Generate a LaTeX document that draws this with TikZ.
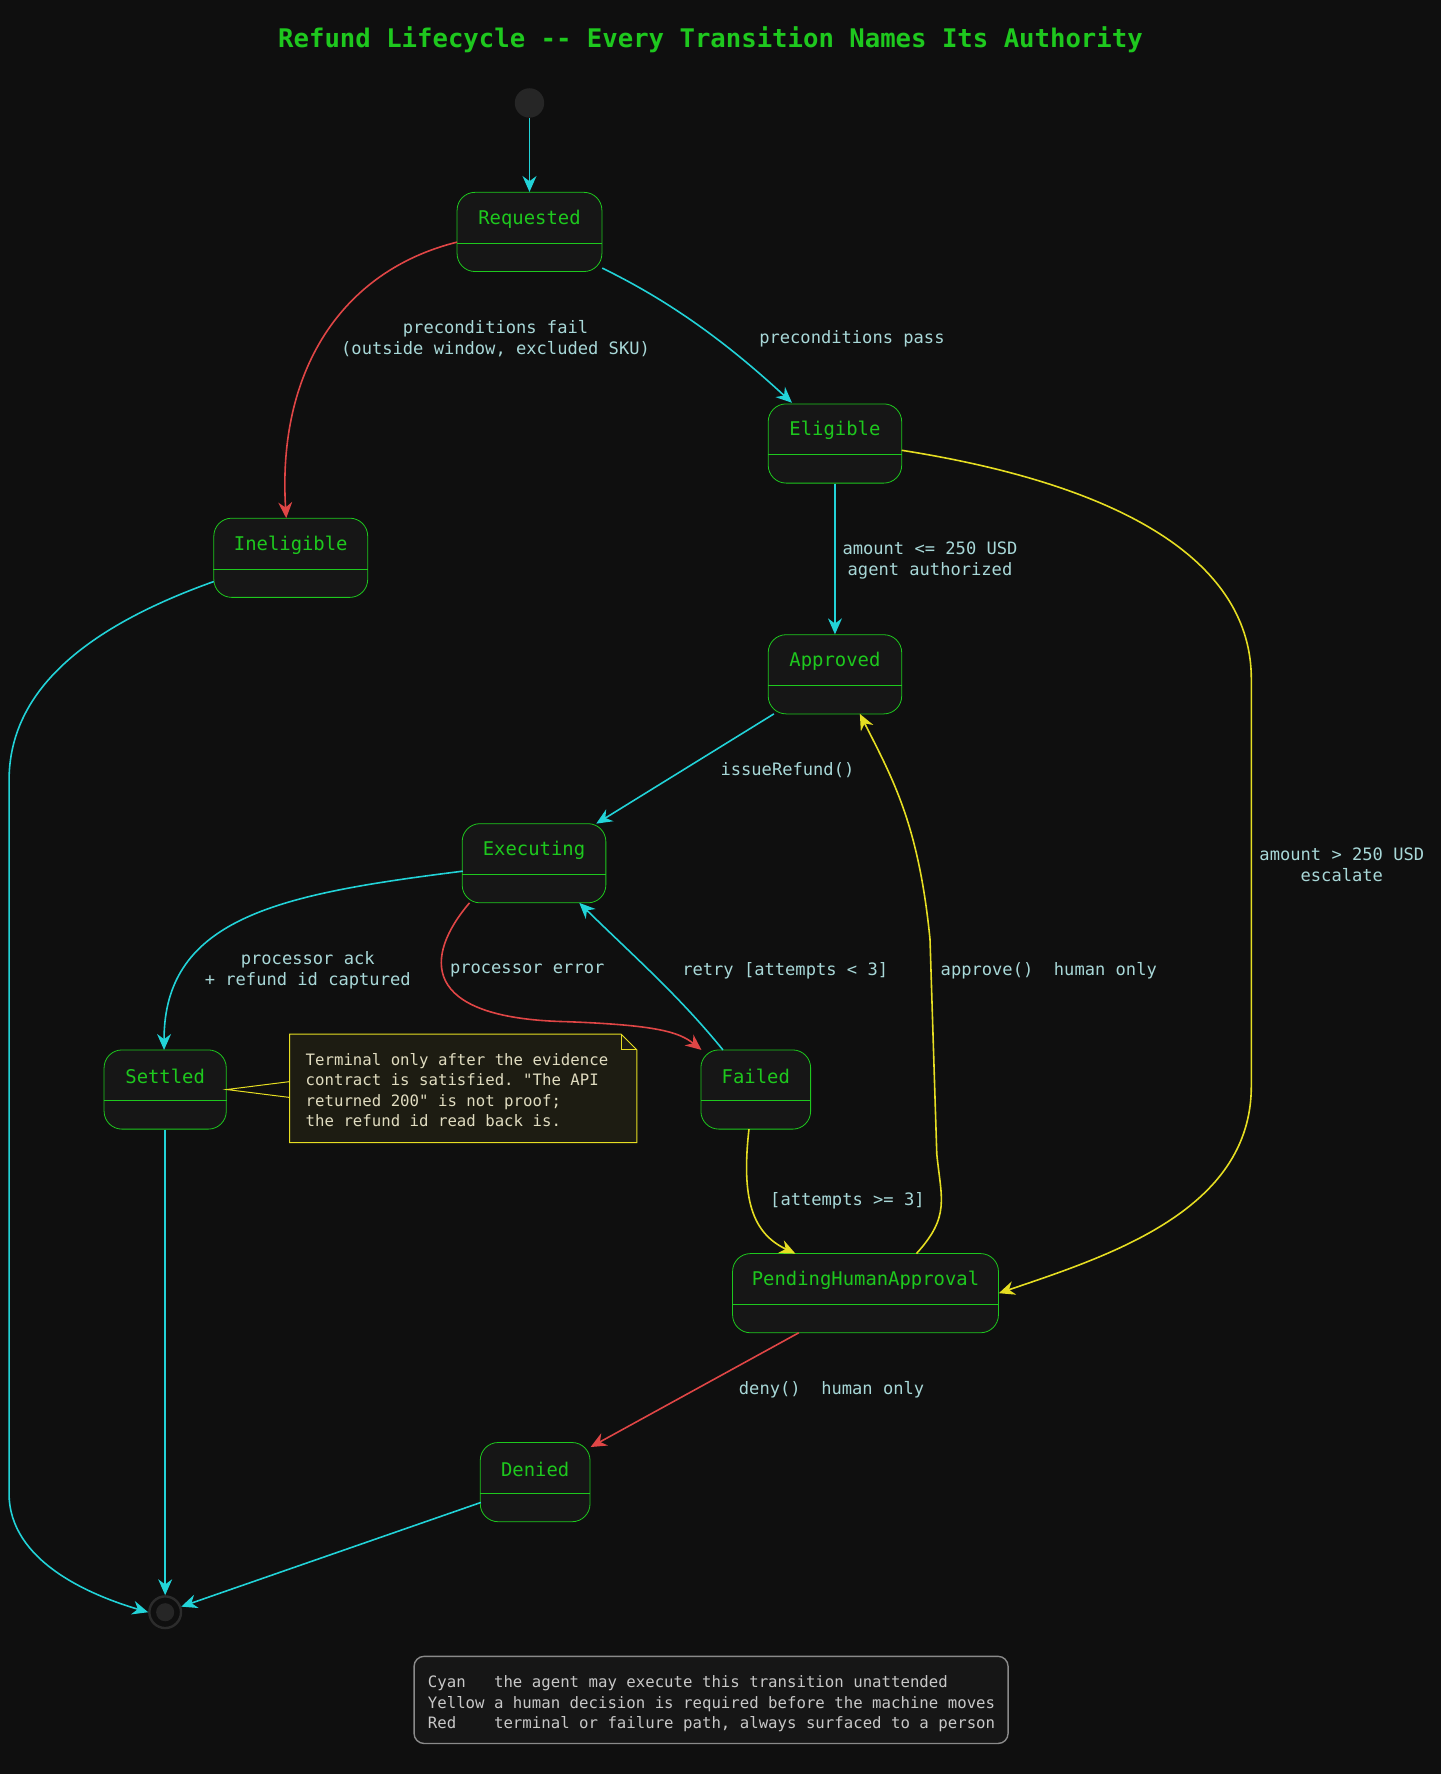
\documentclass[tikz,border=0pt]{standalone}
\usepackage{fontspec}
\setmonofont{DejaVu Sans Mono}
\usetikzlibrary{calc,arrows.meta}
\definecolor{bgcol}{HTML}{0F0F0F}
\definecolor{boxfill}{HTML}{161616}
\definecolor{dotcol}{HTML}{262626}
\definecolor{ringcol}{HTML}{2C2C2C}
\definecolor{stgreen}{HTML}{1EC81E}
\definecolor{ccyan}{HTML}{22D3D8}
\definecolor{cred}{HTML}{E04646}
\definecolor{cyel}{HTML}{E6DE22}
\definecolor{lbltext}{HTML}{A8D8D8}
\definecolor{notefill}{HTML}{1D1C12}
\definecolor{notetext}{HTML}{E0DCC0}
\definecolor{legtext}{HTML}{C8C8C8}
\definecolor{legline}{HTML}{8A8A8A}
\tikzset{
  state/.style={draw=stgreen, fill=boxfill, rounded corners=9pt, inner sep=0pt},
  stname/.style={text=stgreen, font=\ttfamily\fontsize{9.5}{11}\selectfont},
  lbl/.style={text=lbltext, font=\ttfamily\fontsize{8.6}{10.6}\selectfont, align=center},
  tr/.style={-{Stealth[length=8pt,width=7pt]}, line width=0.8pt},
}
% box with a name field and an empty lower field
\newcommand{\stbox}[6]{%
  \node[state, minimum width=#4*0.02cm, minimum height=70*0.02cm] (#1) at (#2,#3) {};
  \node[stname] (#1n) at ($(#1.north)+(0,24)$) {#5};
  \draw[stgreen, line width=0.5pt] ($(#1.west)+(0,10)$) -- ($(#1.east)+(0,10)$);
}
\begin{document}
\begin{tikzpicture}[x=0.02cm, y=-0.02cm]
  \fill[bgcol] (0,0) rectangle (1274,1568);
  \useasboundingbox (0,0) rectangle (1274,1568);

  \node[text=stgreen, font=\ttfamily\bfseries\fontsize{12.9}{14}\selectfont] (title) at (628,35) {Refund Lifecycle -- Every Transition Names Its Authority};

  \node[circle, fill=dotcol, minimum size=26*0.02cm, inner sep=0pt] (start) at (468,91) {};
  \node[circle, draw=ringcol, line width=1.2pt, fill=bgcol, minimum size=28*0.02cm, inner sep=0pt] (stop) at (146,1425) {};
  \fill[dotcol] (stop) circle (8);

  \stbox{req}{468}{205}{128}{Requested}{}
  \stbox{elig}{738}{392}{118}{Eligible}{}
  \stbox{inel}{257}{493}{136}{Ineligible}{}
  \stbox{appr}{738}{596}{118}{Approved}{}
  \stbox{exec}{472}{763}{127}{Executing}{}
  \stbox{sett}{146}{963}{108}{Settled}{}
  \stbox{fail}{668}{963}{97}{Failed}{}
  \stbox{pend}{765}{1143}{235}{PendingHumanApproval}{}
  \stbox{deny}{473}{1310}{97}{Denied}{}

  % note beside Settled
  \draw[cyel, fill=notefill, line width=0.5pt] (256,914) -- (549,914) -- (563,928) -- (563,1010) -- (256,1010) -- cycle;
  \draw[cyel, line width=0.5pt] (549,914) -- (549,928) -- (563,928);
  \draw[cyel, line width=0.5pt] (256,956) -- (sett.east) -- (256,970);
  \node[text=notetext, font=\ttfamily\fontsize{7.9}{10.2}\selectfont, align=left, anchor=north west] (note) at (264,925)
    {Terminal only after the evidence\\contract is satisfied. "The API\\returned 200" is not proof;\\the refund id read back is.};

  % cyan: agent may act
  \draw[tr, ccyan] (start) -- (req.north);
  \draw[tr, ccyan] (req.east |- 0,237) .. controls (600,270) and (650,310) .. (700,356);
  \draw[tr, ccyan] (elig) -- (appr);
  \draw[tr, ccyan] (684,631) -- (527,728);
  \draw[tr, ccyan] (409,770) .. controls (250,790) and (145,810) .. (145,928);
  \draw[tr, ccyan] (639,928) .. controls (600,880) and (560,845) .. (512,798);
  \draw[tr, ccyan] (sett) -- (stop);
  \draw[tr, ccyan] (425,1328) -- (stop);
  \draw[tr, ccyan] (189,514) .. controls (60,560) and (8,620) .. (8,690) -- (8,1320) .. controls (8,1380) and (80,1410) .. (stop.west);

  % yellow: human decision
  \draw[tr, cyel] (797,398) .. controls (1000,430) and (1106,500) .. (1106,600) -- (1106,960) .. controls (1106,1070) and (980,1110) .. (pend.east);
  \draw[tr, cyel] (662,998) .. controls (655,1060) and (665,1090) .. (703,1108);
  \draw[tr, cyel] (810,1108) .. controls (840,1075) and (832,1060) .. (828,1020) -- (822,830) .. controls (812,730) and (790,690) .. (760,631);

  % red: failure paths
  \draw[tr, cred] (404,214) .. controls (300,240) and (245,330) .. (253,458);
  \draw[tr, cred] (415,798) .. controls (375,845) and (370,900) .. (500,903) .. controls (580,906) and (600,912) .. (620,928);
  \draw[tr, cred] (706,1178) -- (522,1279);

  \node[lbl] (lfail) at (438,299) {preconditions fail\\(outside window, excluded SKU)};
  \node[lbl] (lpass) at (753,299) {preconditions pass};
  \node[lbl] (lamt) at (822,495) {amount <= 250 USD\\agent authorized};
  \node[lbl] (lesc) at (1186,764) {amount > 250 USD\\escalate};
  \node[lbl] (liss) at (696,681) {issueRefund()};
  \node[lbl] (lack) at (272,858) {processor ack\\+ refund id captured};
  \node[lbl] (lerr) at (466,858) {processor error};
  \node[lbl] (lret) at (694,858) {retry [attempts < 3]};
  \node[lbl] (lapp) at (927,858) {approve()\ \ human only};
  \node[lbl] (lgte) at (749,1061) {[attempts >= 3]};
  \node[lbl] (lden) at (735,1228) {deny()\ \ human only};

  % legend
  \draw[legline, fill=boxfill, rounded corners=5pt, line width=0.7pt] (366,1464) rectangle (891,1541);
  \node[text=legtext, font=\ttfamily\fontsize{7.9}{10.2}\selectfont, align=left, anchor=north west] (legend) at (372,1475)
    {Cyan\ \ \ the agent may execute this transition unattended\\Yellow a human decision is required before the machine moves\\Red\ \ \ \ terminal or failure path, always surfaced to a person};
\end{tikzpicture}
\end{document}
